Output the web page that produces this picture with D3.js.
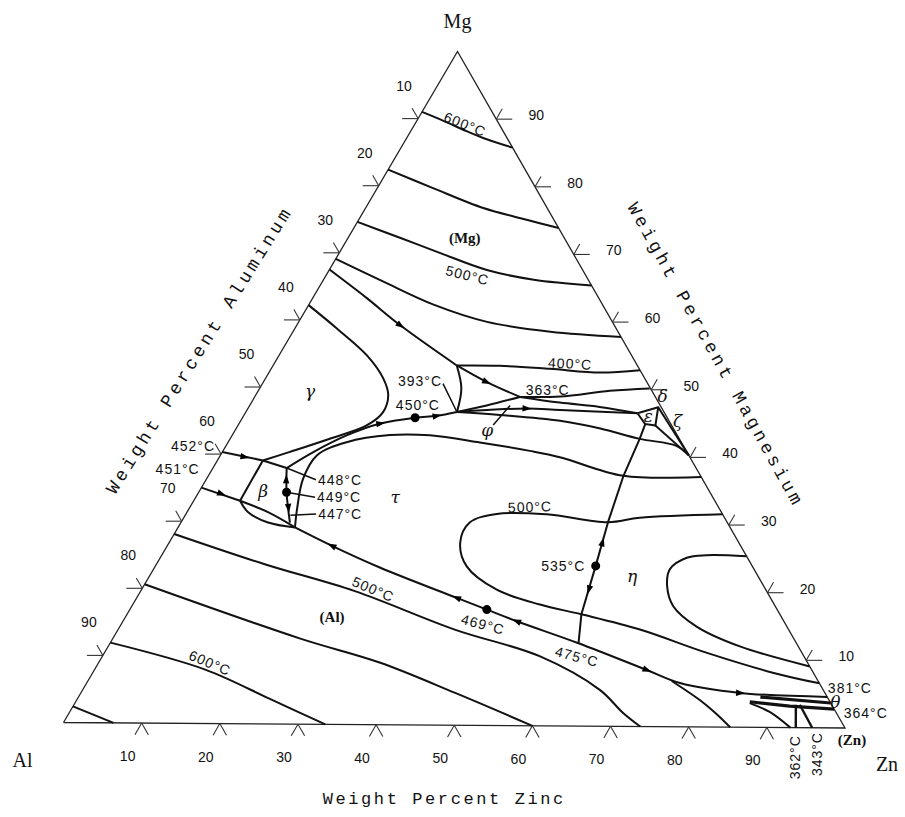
<!DOCTYPE html>
<html><head><meta charset="utf-8">
<script src="https://cdn.jsdelivr.net/npm/d3@7"></script>
<style>body{margin:0;background:#fff}</style>
</head><body>
<svg id="c" width="905" height="817"></svg>
<script>
// ===== DATA (compositions in wt% : [Zn, Mg]) =====
const tickValues = [10,20,30,40,50,60,70,80,90];
const cornerNames = ["Al","Zn","Mg"];
const axisTitles = ["Weight Percent Zinc","Weight Percent Aluminum","Weight Percent Magnesium"];

// isotherms / boundaries (smooth curves)
const isoMg600 = [[0,91],[3.4,89.7],[7.1,88.2],[10.3,87.0],[14.2,85.8]];
const isoMg550 = [[0,82.4],[7.1,79.7],[15.0,76.8],[21.4,75.1],[26.1,73.9]];
const isoMg500 = [[0,74.6],[6.6,72.3],[12.8,70.1],[20.1,67.6],[26.8,66.2],[34.6,65.4]];
const isoMg450 = [[0,69.1],[7.7,65.8],[15.9,62.4],[24.0,59.9],[32.8,58.5],[42.2,57.8]];
const lineMgGamma = [[0,67.5],[6.9,63.3],[13.2,59.3],[23.4,53.4]];
const isoGamma = [[0,62.2],[5.3,58.8],[11.2,54.8],[15.0,51.4],[16.9,48.9],[17.5,46.4],[16.4,44.4],[12.7,42.4],[8.6,40.4],[5.8,39.1]];
const tauArc = [[14.9,29.2],[13.8,31.9],[12.3,36.4],[12.3,39.9],[15.1,41.9],[20.1,43.0],[25.2,43.0],[32.1,42.0],[39.1,40.8],[43.4,39.9],[52.9,37.2],[62.9,37.1]];
const lineGammaTau = [[9.4,38.0],[11.6,40.4],[14.6,42.9],[18.0,44.7],[22.0,45.6],[24.6,45.9],[26.9,46.5]];
const line393 = [[23.4,53.4],[25.7,50.0],[26.9,46.5]];
const iso400 = [[23.4,53.4],[28.9,53.4],[35.5,53.0],[42.2,52.5],[47.1,52.9]];
const line393to363 = [[23.4,53.4],[28.4,51.0],[33.8,48.8]];
const phiUpper = [[26.9,46.5],[30.2,47.5],[33.8,48.8]];
const line363toEps = [[33.8,48.8],[39.3,48.0],[44.7,47.4],[50.0,46.5]];
const line363toDelta = [[33.8,48.8],[38.9,48.9],[44.8,49.8],[49.7,50.2]];
const lineToEps = [[26.9,46.5],[35.5,47.1],[39.9,46.9],[50.0,46.5]];
const phiLower = [[26.9,46.5],[32.6,46.1],[40.7,45.3],[46.4,44.2],[52.2,42.7],[57.4,41.7],[59.7,40.3]];
const etaLine = [[51.8,44.9],[52.2,42.7],[52.9,37.2],[54.4,30.3],[56.1,23.8],[57.9,16.6],[59.7,12.3]];
const iso500Tau = [[68.4,31.6],[58.1,31.0],[54.4,30.3],[46.0,31.4],[39.6,31.4],[36.8,30.1],[37.1,27.1],[39.7,23.6],[45.2,20.2],[51.9,18.0],[57.9,16.6],[66.5,14.4],[76.8,11.0],[86.8,8.1],[93.4,6.6]];
const etaLoop = [[74.6,25.4],[69.4,25.5],[67.1,25.1],[65.8,23.4],[66.7,20.9],[69.0,17.9],[73.5,14.9],[80.5,12.0],[90.9,9.1]];
const lineAl = [[14.9,29.2],[21.0,26.5],[28.8,23.3],[40.8,18.9],[45.5,17.2],[50.2,15.5],[59.7,12.3],[70.4,8.4],[75.6,6.5],[84.0,5.1],[95.4,4.6]];
const iso500Al = [[0,28.1],[13.8,23.7],[27.3,19.8],[42.9,14.2],[55.8,10.3],[65.9,5.4],[70.6,2.0],[73.8,0]];
const iso550Al = [[0,20.6],[23.9,12.7],[35.9,9.2],[47.7,4.8],[60.0,0]];
const iso600Al = [[0,11.9],[14.1,8.0],[24.8,3.6],[33.5,0]];
const iso650Al = [[0,2.4],[6.4,0]];
const znCurveA = [[74.4,6.8],[79.4,4.0],[82.2,2.2],[85.3,0]];
const znCurveB = [[86.0,3.6],[89.2,2.3],[93.0,0]];
const lensUpper = [[5.9,33.1],[10.4,31.4],[14.9,29.2]];
const lensLower = [[5.9,33.1],[7.8,31.4],[11.1,29.9],[14.9,29.2]];
const betaRight = [[9.4,38.0],[11.2,34.4],[13.9,29.9]];

// straight segments
const line452 = [[0,40.3],[5.8,39.1]];
const line451 = [[0,35.0],[5.9,33.1]];
const betaLeft = [[5.8,39.1],[5.9,33.1]];
const betaTop = [[5.8,39.1],[9.4,38.0]];
const epsRegion = [[50.0,46.5],[52.2,47.4],[53.2,44.7],[51.8,44.9],[50.0,46.5]];
const zeta1 = [[52.2,47.4],[59.7,40.3]];
const zeta2 = [[53.2,44.7],[59.7,40.3]];
const znBundle1 = [[86.9,4.5],[96.3,3.7]];
const znBundle2 = [[85.9,3.8],[91.3,3.2],[97.2,2.8]];
const lead362 = [[92.0,3.4],[93.7,0]];
const lead343 = [[92.5,3.4],[95.8,0]];
const leaders = [
  [[23.0,50.7],[26.9,46.5]],
  [[32.5,44.6],[33.2,47.5]],
  [[9.4,38.0],[14.0,36.3]],
  [[11.2,34.4],[15.2,33.7]],
  [[13.4,31.0],[16.6,31.2]]
];

// invariant points (dots)
const dots = [[22.0,45.6],[11.2,34.4],[56.1,23.8],[45.5,17.2]];

// arrows: [Zn, Mg, towardZn, towardMg]
const arrows = [
  [13.2,59.3,23.4,53.4],
  [3.2,39.6,5.8,39.1],
  [3.0,34.1,5.9,33.1],
  [10.2,36.3,9.4,38.0],
  [12.6,32.1,13.9,29.9],
  [18.0,44.7,22.0,45.6],
  [24.6,45.9,26.9,46.5],
  [28.4,51.0,33.8,48.8],
  [35.5,47.1,39.9,46.9],
  [55.2,27.3,54.4,30.3],
  [57.0,20.3,57.9,16.6],
  [21.0,26.5,14.9,29.2],
  [40.8,18.9,28.8,23.3],
  [50.2,15.5,45.5,17.2],
  [70.4,8.4,75.6,6.5],
  [84.0,5.1,95.4,4.6]
];

// temperature labels [text, Zn, Mg]
const tempLabels = [
  ["600°C",6.4,89.2],["500°C",18.0,66.8],["400°C",37.7,53.8],["393°C",19.9,51.0],
  ["450°C",21.4,47.5],["363°C",36.8,49.9],["452°C",-4.2,41.2],["451°C",-4.4,37.7],
  ["500°C",43.3,32.5],["535°C",52.0,23.7],["469°C",46.1,15.0],["475°C",60.5,10.3],
  ["500°C",29.5,20.1],["600°C",14.2,9.0],["381°C",97.6,6.0],["364°C",101.5,2.3],
  ["362°C",95.8,-4.4],["343°C",98.4,-3.9]
];
const sideLabels = [["448°C",14.0,36.3],["449°C",15.2,33.7],["447°C",16.6,31.2]];
const regionLabels = [["(Mg)",14.9,72.3],["(Al)",26.3,16.0],["(Zn)",101.8,-1.8]];
const phaseLabels = [["γ",6.6,49.5],["β",8.1,34.6],["τ",25.4,33.8],["φ",32.1,43.9],["ε",51.6,46.1],
  ["ζ",55.7,45.4],["δ",51.9,49.1],["η",61.5,22.3],["θ",96.8,3.9]];

// ===== STYLE / LAYOUT =====
const tempRot = {0:22,1:14,2:3,8:-2,10:15,11:15,12:23,13:23,16:-90,17:-90};
const A0=[63.5,722.5];
const znX=d3.scaleLinear([0,100],[0,781.5]), znY=d3.scaleLinear([0,100],[0,5.5]);
const mgX=d3.scaleLinear([0,100],[0,394]), mgY=d3.scaleLinear([0,100],[0,-671]);
const P=(zn,mg)=>[A0[0]+znX(zn)+mgX(mg), A0[1]+znY(zn)+mgY(mg)];

const svg=d3.select("#c");
const smooth=d3.line().x(d=>P(d[0],d[1])[0]).y(d=>P(d[0],d[1])[1]).curve(d3.curveCatmullRom.alpha(0.5));
const straight=d3.line().x(d=>P(d[0],d[1])[0]).y(d=>P(d[0],d[1])[1]);

// triangle
svg.append("path").attr("d",straight([[0,0],[100,0],[0,100],[0,0]]))
  .attr("fill","none").attr("stroke","#222").attr("stroke-width",1.3);

// ticks
const tg=svg.append("g").attr("stroke","#333").attr("stroke-width",1.1);
const lab=svg.append("g").attr("font-family","Liberation Sans, Arial, sans-serif").attr("font-size",14).attr("fill","#111")
  .attr("text-anchor","middle").attr("dominant-baseline","central");
tickValues.forEach(k=>{
  let p=P(k,0);
  tg.append("line").attr("x1",p[0]).attr("y1",p[1]).attr("x2",p[0]-6.7).attr("y2",p[1]+11.7);
  tg.append("line").attr("x1",p[0]).attr("y1",p[1]).attr("x2",p[0]+6.7).attr("y2",p[1]+11.7);
  lab.append("text").attr("x",p[0]-14).attr("y",p[1]+33).text(k);
  p=P(0,100-k);
  tg.append("line").attr("x1",p[0]).attr("y1",p[1]).attr("x2",p[0]-16).attr("y2",p[1]);
  tg.append("line").attr("x1",p[0]).attr("y1",p[1]).attr("x2",p[0]-6).attr("y2",p[1]-10.4);
  lab.append("text").attr("x",p[0]-14).attr("y",p[1]-33).text(k);
  p=P(100-k,k);
  tg.append("line").attr("x1",p[0]).attr("y1",p[1]).attr("x2",p[0]+16).attr("y2",p[1]);
  tg.append("line").attr("x1",p[0]).attr("y1",p[1]).attr("x2",p[0]+6).attr("y2",p[1]-10.4);
  lab.append("text").attr("x",p[0]+40).attr("y",p[1]-4).text(k);
});

// curves
const cg=svg.append("g").attr("fill","none").attr("stroke","#111").attr("stroke-width",2).attr("stroke-linejoin","round");
[isoMg600,isoMg550,isoMg500,isoMg450,lineMgGamma,isoGamma,tauArc,lineGammaTau,line393,iso400,line393to363,
 phiUpper,line363toEps,line363toDelta,lineToEps,phiLower,iso500Tau,etaLoop,lineAl,iso500Al,iso550Al,iso600Al,
 znCurveA,znCurveB,lensUpper,lensLower,betaRight].forEach(c=>cg.append("path").attr("d",smooth(c)));
[line452,line451,betaLeft,betaTop,epsRegion,zeta1,zeta2,etaLine,iso650Al].forEach(c=>cg.append("path").attr("d",straight(c)));
[znBundle1,znBundle2].forEach(c=>cg.append("path").attr("d",straight(c)).attr("stroke-width",3.2));
[lead362,lead343].forEach(c=>cg.append("path").attr("d",straight(c)).attr("stroke-width",2.4));
leaders.forEach(c=>cg.append("path").attr("d",straight(c)).attr("stroke-width",1.5));

// dots
dots.forEach(d=>{const p=P(d[0],d[1]);svg.append("circle").attr("cx",p[0]).attr("cy",p[1]).attr("r",4.5).attr("fill","#000");});
// arrows
arrows.forEach(a=>{const p=P(a[0],a[1]),q=P(a[2],a[3]);
  const ang=Math.atan2(q[1]-p[1],q[0]-p[0])*180/Math.PI;
  svg.append("path").attr("d","M5,0 L-4,-3.2 L-4,3.2 Z").attr("fill","#000")
    .attr("transform",`translate(${p[0]},${p[1]}) rotate(${ang})`);});

// labels
const tl=svg.append("g").attr("font-family","Liberation Sans, Arial, sans-serif").attr("font-size",14)
  .attr("letter-spacing",1).attr("fill","#111").attr("text-anchor","middle").attr("dominant-baseline","central");
tempLabels.forEach((l,i)=>{const p=P(l[1],l[2]);
  tl.append("text").attr("transform",`translate(${p[0]},${p[1]}) rotate(${tempRot[i]||0})`).text(l[0]);});
sideLabels.forEach(l=>{const p=P(l[1],l[2]);
  tl.append("text").attr("x",p[0]+2).attr("y",p[1]).attr("text-anchor","start").text(l[0]);});
const rl=svg.append("g").attr("font-family","Liberation Serif, serif").attr("font-size",15).attr("font-weight","bold")
  .attr("fill","#111").attr("text-anchor","middle").attr("dominant-baseline","central");
regionLabels.forEach(l=>{const p=P(l[1],l[2]);rl.append("text").attr("x",p[0]).attr("y",p[1]).text(l[0]);});
const pl=svg.append("g").attr("font-family","DejaVu Serif, serif").attr("font-style","italic").attr("font-size",17)
  .attr("fill","#111").attr("text-anchor","middle").attr("dominant-baseline","central");
phaseLabels.forEach(l=>{const p=P(l[1],l[2]);pl.append("text").attr("x",p[0]).attr("y",p[1]).text(l[0]);});

// corner names
const cornersPos=[[-41,37],[42,36],[0,-31]];
const cornerComp=[[0,0],[100,0],[0,100]];
cornerNames.forEach((n,i)=>{const p=P(cornerComp[i][0],cornerComp[i][1]);
  svg.append("text").attr("x",p[0]+cornersPos[i][0]).attr("y",p[1]+cornersPos[i][1])
   .attr("font-family","Liberation Serif, serif").attr("font-size",20).attr("text-anchor","middle")
   .attr("dominant-baseline","central").attr("fill","#111").text(n);});

// axis titles
const ttl=svg.append("g").attr("font-family","Liberation Mono, monospace").attr("fill","#111")
  .attr("text-anchor","middle").attr("dominant-baseline","central");
let pb=P(50,0);
ttl.append("text").attr("x",pb[0]-10).attr("y",pb[1]+74).attr("font-size",17).attr("letter-spacing",2.6).text(axisTitles[0]);
let pl2=P(0,57);
ttl.append("text").attr("transform",`translate(${pl2[0]-88},${pl2[1]+10}) rotate(-58)`).attr("font-size",18).attr("letter-spacing",3.8).text(axisTitles[1]);
let pr=P(43,57);
ttl.append("text").attr("transform",`translate(${pr[0]+91},${pr[1]+13}) rotate(61)`).attr("font-size",18).attr("letter-spacing",3.6).text(axisTitles[2]);
</script>
</body></html>
